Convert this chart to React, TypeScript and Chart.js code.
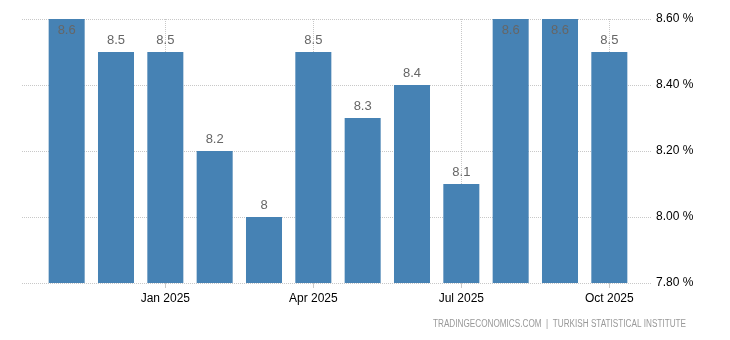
import React, { useEffect, useRef } from "react";
import { Chart, registerables } from "chart.js";

Chart.register(...registerables);

const categories = [
  "Nov 2024", "Dec 2024", "Jan 2025", "Feb 2025", "Mar 2025", "Apr 2025",
  "May 2025", "Jun 2025", "Jul 2025", "Aug 2025", "Sep 2025", "Oct 2025",
];
const values = [8.6, 8.5, 8.5, 8.2, 8.0, 8.5, 8.3, 8.4, 8.1, 8.6, 8.6, 8.5];
const xTickLabels = ["Jan 2025", "Apr 2025", "Jul 2025", "Oct 2025"];
const yMin = 7.8;
const yMax = 8.6;
const yStep = 0.2;
const sourceText = "TRADINGECONOMICS.COM  |  TURKISH STATISTICAL INSTITUTE";

const FONT = "'Liberation Sans', Arial, sans-serif";

const gridPlugin = {
  id: "customGrid",
  beforeDatasetsDraw(chart: any) {
    const { ctx, chartArea, scales } = chart;
    const x = scales.x;
    const y = scales.y;
    ctx.save();
    ctx.strokeStyle = "#c8c8c8";
    ctx.lineWidth = 1;
    ctx.setLineDash([1, 1]);
    y.ticks.forEach((t: any) => {
      const py = Math.round(y.getPixelForValue(t.value)) + 0.5;
      ctx.beginPath();
      ctx.moveTo(22, py);
      ctx.lineTo(652, py);
      ctx.stroke();
    });
    categories.forEach((c, i) => {
      if (!xTickLabels.includes(c)) return;
      const px = Math.round(x.getPixelForValue(i)) + 0.5;
      ctx.beginPath();
      ctx.moveTo(px, chartArea.top);
      ctx.lineTo(px, chartArea.bottom);
      ctx.stroke();
    });
    ctx.setLineDash([]);
    categories.forEach((c, i) => {
      if (!xTickLabels.includes(c)) return;
      const px = Math.round(x.getPixelForValue(i)) + 0.5;
      ctx.beginPath();
      ctx.moveTo(px, chartArea.bottom);
      ctx.lineTo(px, chartArea.bottom + 5);
      ctx.stroke();
    });
    ctx.restore();
  },
  afterDatasetsDraw(chart: any) {
    const { ctx, chartArea } = chart;
    const meta = chart.getDatasetMeta(0);
    ctx.save();
    ctx.font = `13px ${FONT}`;
    ctx.fillStyle = "#666666";
    ctx.textAlign = "center";
    ctx.textBaseline = "middle";
    meta.data.forEach((bar: any, i: number) => {
      const ly = Math.max(bar.y - 12, chartArea.top + 11);
      ctx.fillText(String(values[i]), bar.x, ly);
    });
    ctx.restore();
  },
  afterDraw(chart: any) {
    const { ctx } = chart;
    ctx.save();
    ctx.font = `10px ${FONT}`;
    ctx.fillStyle = "#999999";
    ctx.textAlign = "right";
    ctx.textBaseline = "middle";
    ctx.fillText(sourceText, 686, 324, 253);
    ctx.restore();
  },
};

export default function App() {
  const ref = useRef<HTMLCanvasElement>(null);
  useEffect(() => {
    if (!ref.current) return;
    const chart = new Chart(ref.current, {
      type: "bar",
      data: {
        labels: categories,
        datasets: [
          {
            data: values,
            backgroundColor: "#4682b4",
            borderWidth: 0,
            barPercentage: 0.73,
            categoryPercentage: 1,
            base: yMin,
          } as any,
        ],
      },
      options: {
        responsive: false,
        animation: false,
        layout: { padding: { left: 42, top: 19, right: 0, bottom: 0 } },
        plugins: { legend: { display: false }, tooltip: { enabled: false } },
        scales: {
          x: {
            grid: { display: false, drawTicks: false },
            border: { display: false },
            ticks: {
              autoSkip: false,
              maxRotation: 0,
              padding: 8,
              color: "#000000",
              font: { family: FONT, size: 12 },
              callback: (v: any, i: number) =>
                xTickLabels.includes(categories[i]) ? categories[i] : "",
            },
            afterFit: (s: any) => {
              s.height = 57;
              s.paddingLeft = 0;
              s.paddingRight = 0;
            },
          },
          y: {
            position: "right",
            min: yMin,
            max: yMax,
            grid: { display: false, drawTicks: false },
            border: { display: false },
            ticks: {
              stepSize: yStep,
              padding: 22,
              color: "#000000",
              font: { family: FONT, size: 12 },
              callback: (v: any) => Number(v).toFixed(2) + " %",
            },
            afterFit: (s: any) => {
              s.width = 96;
              s.paddingTop = 0;
              s.paddingBottom = 0;
            },
          },
        },
      },
      plugins: [gridPlugin],
    });
    return () => chart.destroy();
  }, []);
  return (
    <div style={{ position: "fixed", left: 0, top: 0, width: 730, height: 340, background: "#fff" }}>
      <canvas ref={ref} width={730} height={340} style={{ display: "block" }} />
    </div>
  );
}
